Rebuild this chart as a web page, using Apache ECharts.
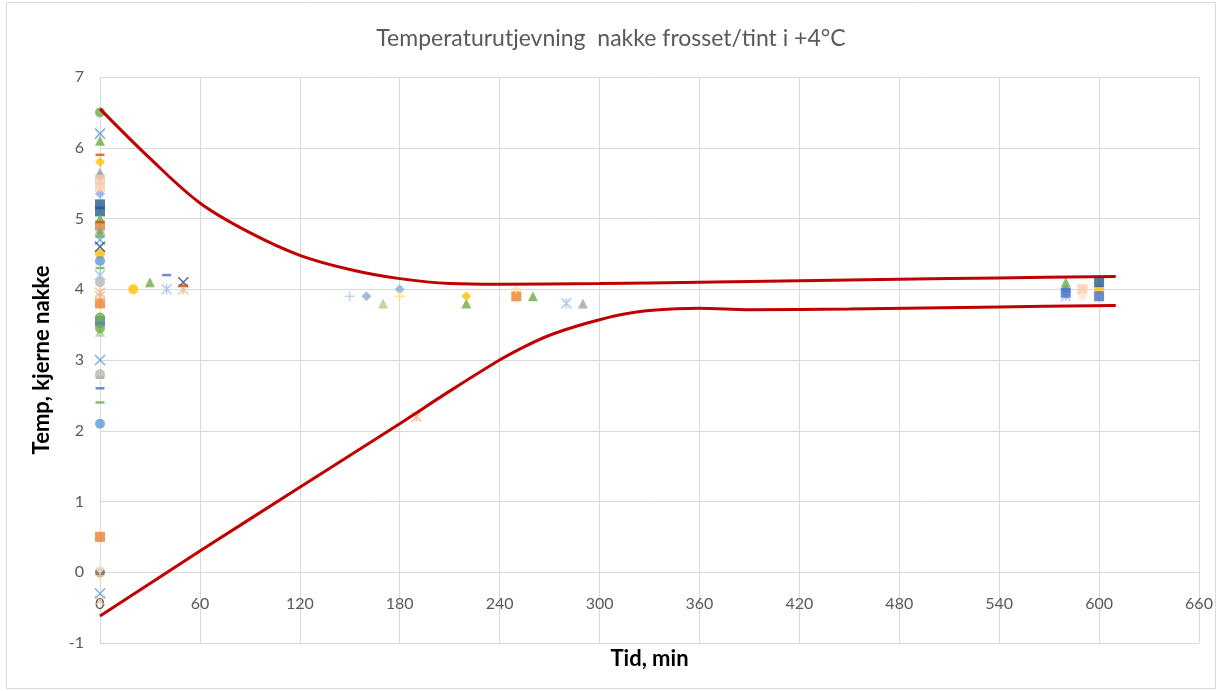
<!DOCTYPE html>
<html lang="nb">
  <head>
    <meta charset="UTF-8" />
    <title>Temperaturutjevning nakke frosset/tint i +4°C</title>
    <script src="https://cdn.jsdelivr.net/npm/echarts@6/dist/echarts.min.js"></script>
    <style>
      html, body { margin: 0; padding: 0; background: #fff; }
      #main { width: 1222px; height: 691px; }
    </style>
  </head>
  <body>
    <div id="main"></div>
    <script>
      // akse-ticks
      const xTicks = [0, 60, 120, 180, 240, 300, 360, 420, 480, 540, 600, 660];
      const yTicks = [-1, 0, 1, 2, 3, 4, 5, 6, 7];

      // måleserier [tid, temp]
      const blueDiamond = [[0, 5.6], [0, 3.5], [580, 4.0]];
      const orangeSquare = [[0, 4.9], [0, 3.8], [0, 0.5], [250, 3.9]];
      const grayTriangle = [[0, 5.65], [0, 4.85], [290, 3.8]];
      const yellowCircle = [[0, 4.5], [20, 4.0], [600, 4.0]];
      const navySquare = [[0, 5.2], [0, 5.1], [600, 4.1]];
      const greenTriangle = [[0, 6.1], [0, 5.0], [0, 4.8], [30, 4.1], [220, 3.8], [260, 3.9], [580, 4.1]];
      const blueCross = [[0, 6.2], [0, 4.7], [0, 3.0], [0, -0.3]];
      const lightBlueStar = [[0, 4.2], [40, 4.0], [280, 3.8], [580, 3.9]];
      const blueDash = [[0, 2.6], [40, 4.2]];
      const peachStar = [[0, 3.95], [50, 4.0], [190, 2.2]];
      const greenDash = [[0, 4.3], [0, 2.75], [0, 2.4]];
      const blueCircle = [[0, 4.4], [0, 2.1]];
      const darkGrayCircle = [[0, 0.0]];
      const grayCircle = [[0, 4.1], [0, 2.8]];
      const yellowDiamond = [[0, 5.8], [220, 3.9]];
      const lilacDiamond = [[0, 5.35], [160, 3.9], [180, 4.0]];
      const paleGreenTriangle = [[0, 3.4], [170, 3.8]];
      const pinkSquare = [[0, 5.55], [0, 5.45], [590, 4.0]];
      const peachDiamond = [[0, 0.05], [590, 3.9]];
      const paleBluePlus = [[150, 3.9]];
      const yellowPlus = [[0, -0.05], [180, 3.9], [250, 4.0]];
      const navyCross = [[0, 4.6], [50, 4.1]];
      const rustDash = [[0, 5.9], [0, 4.95], [50, 4.05]];
      const royalSquare = [[0, 3.55], [580, 3.95], [600, 3.9]];
      const greenCircle = [[0, 6.5], [0, 3.6], [0, 3.45]];
      const peachCross = [[0, 3.9], [0, -0.4]];

      // røde grenselinjer
      const upperBound = [[0, 6.55], [30, 5.85], [60, 5.22], [90, 4.8], [120, 4.48], [150, 4.28], [180, 4.15], [210, 4.08], [240, 4.07], [300, 4.08], [360, 4.1], [420, 4.12], [480, 4.14], [540, 4.16], [610, 4.18]];
      const lowerBound = [[0, -0.62], [60, 0.3], [120, 1.2], [180, 2.1], [210, 2.56], [240, 3.0], [255, 3.19], [270, 3.35], [285, 3.47], [300, 3.57], [315, 3.65], [330, 3.7], [360, 3.73], [390, 3.71], [450, 3.72], [540, 3.75], [610, 3.77]];

      const SYM_X = "path://M0,0L10,10M10,0L0,10";
      const SYM_STAR = "path://M0,0L10,10M10,0L0,10M5,0L5,10";
      const SYM_PLUS = "path://M5,0L5,10M0,5L10,5";

      const markers = [
        { data: blueDiamond, symbol: "diamond", color: "#5B9BD5" },
        { data: orangeSquare, symbol: "rect", color: "#ED7D31" },
        { data: grayTriangle, symbol: "triangle", color: "#A5A5A5" },
        { data: yellowCircle, symbol: "circle", color: "#FFC000" },
        { data: navySquare, symbol: "rect", color: "#255E91" },
        { data: greenTriangle, symbol: "triangle", color: "#70AD47" },
        { data: blueCross, symbol: SYM_X, color: "#5B9BD5", line: true },
        { data: lightBlueStar, symbol: SYM_STAR, color: "#9DC3E6", line: true },
        { data: blueDash, symbol: "dash", color: "#4472C4" },
        { data: peachStar, symbol: SYM_STAR, color: "#F4B183", line: true },
        { data: greenDash, symbol: "dash", color: "#70AD47" },
        { data: blueCircle, symbol: "circle", color: "#5B9BD5" },
        { data: darkGrayCircle, symbol: "circle", color: "#636363" },
        { data: grayCircle, symbol: "circle", color: "#B7B7B7" },
        { data: yellowDiamond, symbol: "diamond", color: "#FFC000" },
        { data: lilacDiamond, symbol: "diamond", color: "#8FAADC" },
        { data: paleGreenTriangle, symbol: "triangle", color: "#A9D18E" },
        { data: pinkSquare, symbol: "rect", color: "#F8CBAD" },
        { data: peachDiamond, symbol: "diamond", color: "#FBE5D6" },
        { data: paleBluePlus, symbol: SYM_PLUS, color: "#B4C7E7", line: true },
        { data: yellowPlus, symbol: SYM_PLUS, color: "#FFD966", line: true },
        { data: navyCross, symbol: SYM_X, color: "#264478", line: true },
        { data: rustDash, symbol: "dash", color: "#C55A11" },
        { data: royalSquare, symbol: "rect", color: "#4472C4" },
        { data: greenCircle, symbol: "circle", color: "#70AD47" },
        { data: peachCross, symbol: SYM_X, color: "#F4B183", line: true },
      ];

      const font = "Lato, 'Open Sans', sans-serif";
      const series = markers.map((m) => ({
        type: "scatter",
        data: m.data,
        symbol: m.symbol === "dash" ? "rect" : m.symbol,
        symbolSize: m.symbol === "dash" ? [9, 2.5] : 10,
        itemStyle: m.line
          ? { color: "transparent", borderColor: m.color, borderWidth: 1.5 }
          : { color: m.color },
        z: 2,
      }));

      [upperBound, lowerBound].forEach((d) => {
        series.push({
          type: "line",
          data: d,
          smooth: 0.35,
          symbol: "none",
          lineStyle: { color: "#C00000", width: 3 },
          z: 3,
        });
      });

      const chart = echarts.init(document.getElementById("main"));
      chart.setOption({
        animation: false,
        title: {
          text: "Temperaturutjevning  nakke frosset/tint i +4°C",
          left: "center",
          top: 22,
          textStyle: { fontFamily: font, fontSize: 23, fontWeight: "normal", color: "#595959" },
        },
        graphic: [
          {
            type: "rect",
            shape: { x: 6.5, y: 2.5, width: 1209, height: 686 },
            style: { fill: "none", stroke: "#d9d9d9", lineWidth: 1 },
          },
        ],
        grid: { left: 100, right: 23, top: 77, bottom: 48, outerBoundsMode: "none", containLabel: false },
        xAxis: {
          type: "value",
          min: xTicks[0],
          max: xTicks[xTicks.length - 1],
          interval: 60,
          offset: -71,
          name: "Tid, min",
          nameLocation: "middle",
          nameGap: 76,
          nameTextStyle: { fontFamily: font, fontSize: 22, fontWeight: "bold", color: "#000" },
          axisLine: { onZero: false, lineStyle: { color: "#d9d9d9" } },
          axisTick: { show: false },
          axisLabel: { margin: 24, fontFamily: font, fontSize: 16, color: "#595959" },
          splitLine: { show: true, lineStyle: { color: "#d9d9d9" } },
        },
        yAxis: {
          type: "value",
          min: yTicks[0],
          max: yTicks[yTicks.length - 1],
          interval: 1,
          name: "Temp, kjerne nakke",
          nameLocation: "middle",
          nameGap: 47,
          nameTextStyle: { fontFamily: font, fontSize: 22, fontWeight: "bold", color: "#000" },
          axisLine: { show: false },
          axisTick: { show: false },
          axisLabel: { margin: 16, fontFamily: font, fontSize: 16, color: "#595959" },
          splitLine: { show: true, lineStyle: { color: "#d9d9d9" } },
        },
        series: series,
      });
    </script>
  </body>
</html>
